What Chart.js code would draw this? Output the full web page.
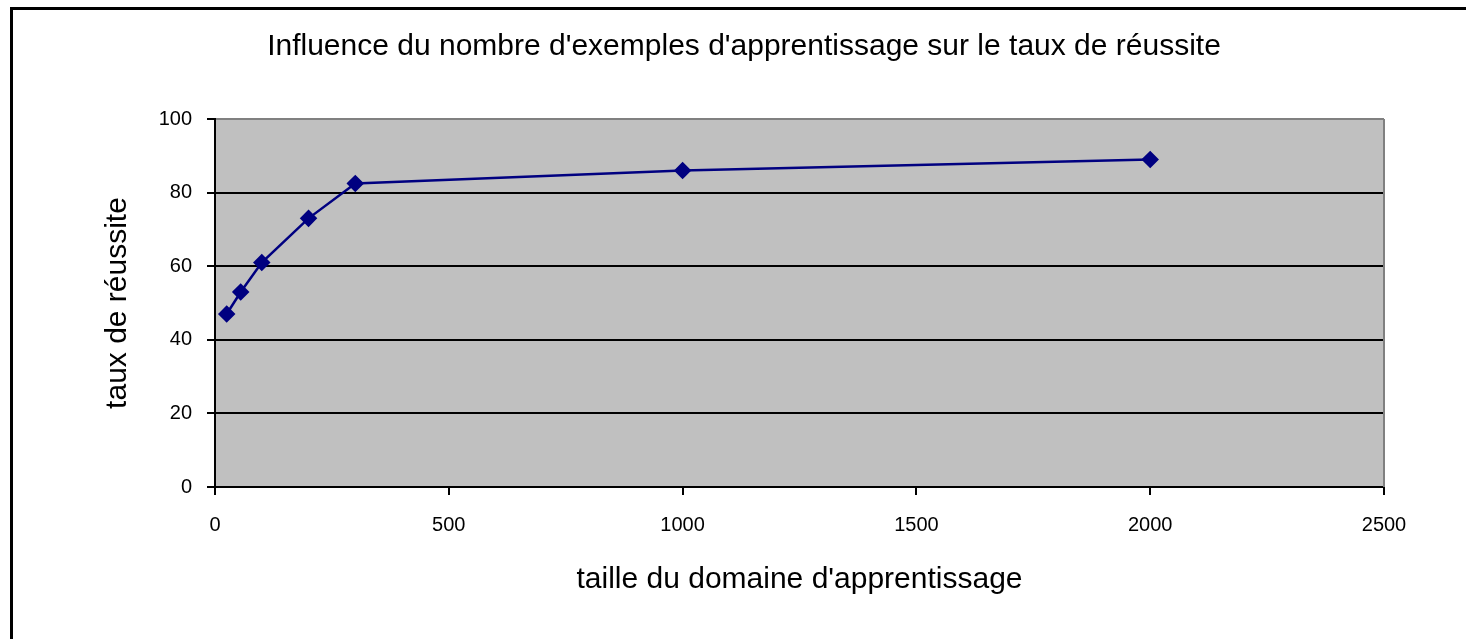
<!DOCTYPE html>
<html>
<head>
<meta charset="utf-8">
<script src="https://cdn.jsdelivr.net/npm/chart.js@4"></script>
<style>
  body { margin: 0; background: #fff; }
  #wrap { width: 1466px; height: 639px; }
</style>
</head>
<body>
<div id="wrap"><canvas id="tauxChart"></canvas></div>
<script>
// valeurs
const tailles = [25, 55, 100, 200, 300, 1000, 2000];
const taux = [47, 53, 61, 73, 82.5, 86, 89];
const xTicks = [0, 500, 1000, 1500, 2000, 2500];
const yTicks = [0, 20, 40, 60, 80, 100];

const FONT = '"Liberation Sans", Arial, sans-serif';

// fond gris de la zone de tracé + cadre extérieur
const cadre = {
    id: 'cadre',
    beforeDraw(chart) {
        const { ctx, chartArea: a } = chart;
        ctx.save();
        ctx.fillStyle = '#fff';
        ctx.fillRect(0, 0, chart.width, chart.height);
        ctx.fillStyle = '#c0c0c0';
        ctx.fillRect(a.left, a.top, a.right - a.left, a.bottom - a.top);
        ctx.strokeStyle = '#000';
        ctx.lineWidth = 3;
        ctx.beginPath();
        ctx.moveTo(11.5, chart.height);
        ctx.lineTo(11.5, 8.5);
        ctx.lineTo(chart.width, 8.5);
        ctx.stroke();
        ctx.restore();
    },
    afterDatasetsDraw(chart) {
        const { ctx, chartArea: a } = chart;
        ctx.save();
        ctx.strokeStyle = '#808080';
        ctx.lineWidth = 2;
        ctx.beginPath();
        ctx.moveTo(a.right, a.top);
        ctx.lineTo(a.right, a.bottom);
        ctx.stroke();
        ctx.restore();
    }
};

new Chart(document.getElementById('tauxChart'), {
    type: 'scatter',
    data: {
        datasets: [{
            label: 'taux de réussite',
            data: tailles.map((t, i) => ({ x: t, y: taux[i] })),
            showLine: true,
            borderColor: '#000080',
            borderWidth: 2.5,
            pointStyle: 'rectRot',
            pointRadius: 7,
            pointBackgroundColor: '#000080',
            pointBorderColor: '#000080',
            tension: 0
        }]
    },
    options: {
        responsive: true,
        maintainAspectRatio: false,
        animation: false,
        layout: { padding: { left: 22, right: 0, top: 0, bottom: 0 } },
        plugins: {
            legend: { display: false },
            tooltip: { enabled: false },
            title: {
                display: true,
                text: "Influence du nombre d'exemples d'apprentissage sur le taux de réussite",
                color: '#000',
                font: { family: FONT, size: 30, weight: 'normal', lineHeight: 1.2 },
                padding: { top: 29, bottom: 54 }
            }
        },
        scales: {
            x: {
                type: 'linear',
                min: 0,
                max: 2500,
                afterBuildTicks: s => { s.ticks = xTicks.map(v => ({ value: v })); },
                afterFit: s => { s.height = 152; s.paddingRight = 82; },
                ticks: {
                    color: '#000',
                    padding: 18,
                    maxRotation: 0,
                    callback: v => String(v),
                    font: { family: FONT, size: 20 }
                },
                grid: {
                    drawOnChartArea: false,
                    drawTicks: true,
                    tickLength: 8,
                    tickColor: '#000',
                    lineWidth: 2
                },
                border: { color: '#000', width: 2 },
                title: {
                    display: true,
                    text: "taille du domaine d'apprentissage",
                    color: '#000',
                    font: { family: FONT, size: 30, lineHeight: 1.2 },
                    padding: { top: 41, bottom: 41 }
                }
            },
            y: {
                min: 0,
                max: 100,
                afterBuildTicks: s => { s.ticks = yTicks.map(v => ({ value: v })); },
                afterFit: s => { s.width = 193; },
                ticks: {
                    color: '#000',
                    padding: 15,
                    callback: v => String(v),
                    font: { family: FONT, size: 20 }
                },
                grid: {
                    color: c => (c.tick && c.tick.value === 100 ? '#808080' : '#000'),
                    tickColor: '#000',
                    tickLength: 8,
                    lineWidth: 2
                },
                border: { color: '#000', width: 2 },
                title: {
                    display: true,
                    text: 'taux de réussite',
                    color: '#000',
                    font: { family: FONT, size: 30, lineHeight: 1.2 },
                    padding: { top: 78, bottom: 78 }
                }
            }
        }
    },
    plugins: [cadre]
});
</script>
</body>
</html>
